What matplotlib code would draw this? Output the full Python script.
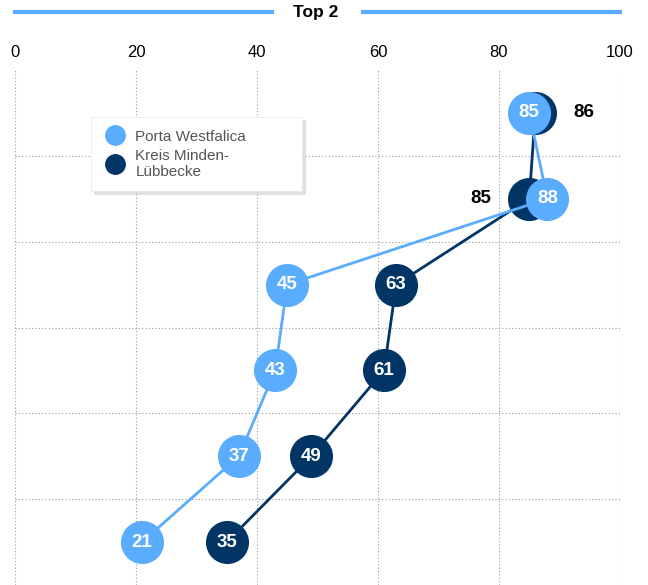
import numpy as np
import matplotlib.pyplot as plt
from matplotlib.lines import Line2D

plt.rcParams['font.family'] = ['Liberation Sans', 'DejaVu Sans']

# data
series_names = ['Porta Westfalica', 'Kreis Minden-\nLübbecke']
porta = [85, 88, 45, 43, 37, 21]
kreis = [86, 85, 63, 61, 49, 35]
x_ticks = [0, 20, 40, 60, 80, 100]

light = '#5aacff'
dark = '#003566'

fig = plt.figure(figsize=(6.48, 5.85), dpi=100)
ax = fig.add_axes([15 / 648, 0, 605 / 648, 515 / 585])

rows = np.arange(len(porta))

ax.plot(kreis, rows, color=dark, lw=2, marker='o', ms=30, mec=dark, mfc=dark, zorder=3)
ax.plot(porta, rows, color=light, lw=2, marker='o', ms=30, mec=light, mfc=light, zorder=4)

# labels inside circles, outside where the two circles overlap
for i, (p, k) in enumerate(zip(porta, kreis)):
    ax.text(p, i, str(p), ha='center', va='center', color='white',
            fontsize=13.5, fontweight='bold', zorder=5)
    if abs(p - k) < 5:
        off = 35 if k >= p else -35
        ax.annotate(str(k), (k, i), xytext=(off, 0), textcoords='offset points',
                    ha='center', va='center', color='black', fontsize=13.5,
                    fontweight='bold', zorder=5)
    else:
        ax.text(k, i, str(k), ha='center', va='center', color='white',
                fontsize=13.5, fontweight='bold', zorder=5)

ax.set_xlim(0, 100)
ax.set_ylim(len(porta) - 0.5, -0.5)
ax.xaxis.tick_top()
ax.set_xticks(x_ticks)
ax.tick_params(axis='x', length=0, labelsize=12, pad=7)
ax.set_yticks(rows[:-1] + 0.5)
ax.set_yticklabels([])
ax.tick_params(axis='y', length=0)
ax.grid(True, linestyle=(0, (1, 2)), color='#999999', lw=0.8)
for s in ax.spines.values():
    s.set_visible(False)
ax.set_axisbelow(True)

# title with lines on both sides
fig.text(316 / 648, 1 - 13 / 585, 'Top 2', ha='center', va='center',
         fontsize=12.5, fontweight='bold')
fig.add_artist(Line2D([15 / 648, 272 / 648], [1 - 12 / 585] * 2, color=light, lw=3))
fig.add_artist(Line2D([363 / 648, 620 / 648], [1 - 12 / 585] * 2, color=light, lw=3))

handles = [Line2D([], [], marker='o', ls='', ms=14, color=light),
           Line2D([], [], marker='o', ls='', ms=14, color=dark)]
leg = ax.legend(handles, series_names, loc='upper left', mode='expand',
                bbox_to_anchor=(76 / 605, 1 - 48 / 515, 211 / 605, 0.001),
                borderaxespad=0, frameon=True,
                shadow={'color': '#cccccc', 'alpha': 0.6, 'ox': 2, 'oy': -2},
                fancybox=False, fontsize=11, labelcolor='#555555',
                handletextpad=0.5, handlelength=1.6, borderpad=0.8,
                labelspacing=0.35)
leg.get_frame().set_edgecolor('#e6e6e6')
leg.get_frame().set_linewidth(0.5)
leg.set_zorder(6)

fig.savefig('out.png', dpi=100)
